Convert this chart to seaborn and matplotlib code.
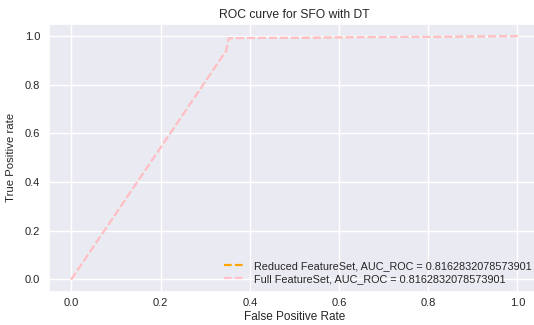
import numpy as np
import pandas as pd
import seaborn as sns
import matplotlib.pyplot as plt

# ROC points (both models give the same curve)
fpr = [0.0, 0.347, 0.353, 1.0]
tpr = [0.0, 0.94, 0.992, 1.0]
auc_roc = 0.8162832078573901

sns.set_theme(style="darkgrid")
plt.rcParams['font.family'] = ['Liberation Sans', 'DejaVu Sans']
plt.rcParams['lines.scale_dashes'] = False

fig = plt.figure(figsize=(5.34, 3.25), dpi=100)
# the original is cropped on the right, so the axes run past the edge
ax = fig.add_axes([0.0918, 0.103, 0.919, 0.823])

tabela = pd.DataFrame({"fpr": fpr, "tpr": tpr})
traco = (0, (5.5, 2.4))

sns.lineplot(data=tabela, x="fpr", y="tpr", ax=ax, color="orange", linestyle=traco,
             linewidth=1.0, label="Reduced FeatureSet, AUC_ROC = " + str(auc_roc))
sns.lineplot(data=tabela, x="fpr", y="tpr", ax=ax, color="pink", linestyle=traco,
             linewidth=1.6, label="Full FeatureSet, AUC_ROC = " + str(auc_roc))

ax.set_title("ROC curve for SFO with DT", fontsize=8.7, pad=4)
ax.set_xlabel("False Positive Rate", fontsize=8.5, labelpad=1.5)
ax.set_ylabel("True Positive rate", fontsize=8.2, labelpad=6)
ax.tick_params(axis="x", labelsize=8, pad=5, length=0)
ax.tick_params(axis="y", labelsize=8, pad=6.5, length=0)
ax.set_xticks([0.0, 0.2, 0.4, 0.6, 0.8, 1.0])
ax.set_yticks([0.0, 0.2, 0.4, 0.6, 0.8, 1.0])
ax.set_xlim(-0.05, 1.05)
ax.set_ylim(-0.05, 1.05)
leg = ax.legend(loc="lower right", frameon=False, fontsize=7.8, handlelength=2,
                borderaxespad=0.3, labelspacing=0.3)
for line in leg.get_lines():
    line.set_linewidth(1.6)

plt.savefig("out.png", dpi=100)
